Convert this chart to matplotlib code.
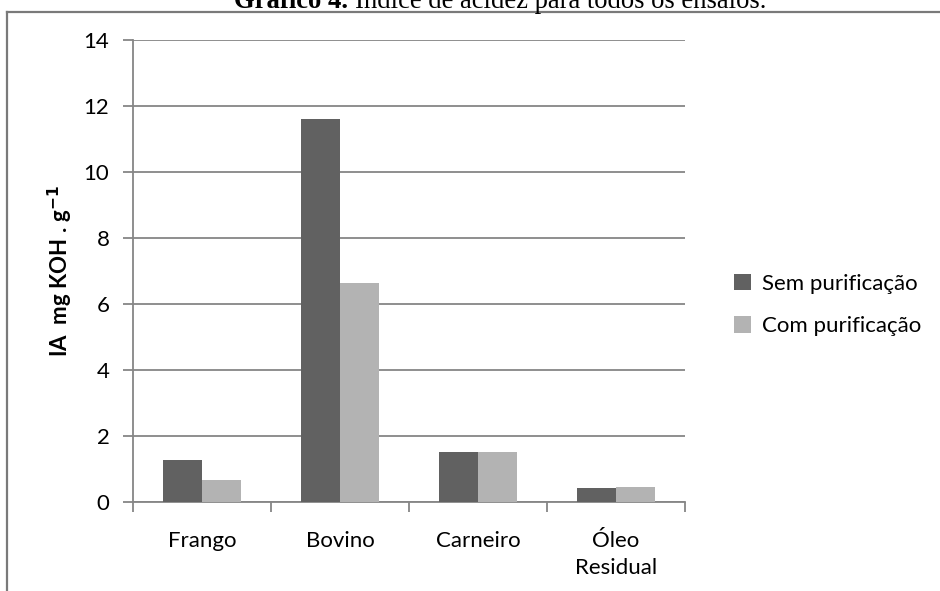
import matplotlib
matplotlib.use("Agg")
import matplotlib.pyplot as plt
import numpy as np
from matplotlib.lines import Line2D

# dados
categorias = ["Frango", "Bovino", "Carneiro", "Óleo\nResidual"]
sem_purif = [1.27, 11.60, 1.53, 0.41]
com_purif = [0.68, 6.64, 1.53, 0.45]
series = ["Sem purificação", "Com purificação"]
yticks = [0, 2, 4, 6, 8, 10, 12, 14]

cor_escura = "#616161"
cor_clara = "#b3b3b3"
cinza = "#868686"
fonte = "Lato"

fig = plt.figure(figsize=(9.4, 5.91), dpi=100, facecolor="white")
W, H = 940.0, 591.0

# moldura da pagina (recortada)
fig.add_artist(Line2D([7 / W, 1.02], [1 - 12 / H, 1 - 12 / H], color="#7a7a7a", lw=1.6))
fig.add_artist(Line2D([7 / W, 7 / W], [-0.02, 1 - 12 / H], color="#7a7a7a", lw=1.6))

# titulo (cortado no topo)
fig.text(348 / W, 1 - 8 / H, "Gráfico 4.", family="Liberation Serif", weight="bold",
         size=19.2, ha="right", va="baseline")
fig.text(355 / W, 1 - 8 / H, "Índice de acidez para todos os ensaios.", family="Liberation Serif",
         size=19.2, ha="left", va="baseline")

ax = fig.add_axes([133 / W, 1 - 502 / H, (685 - 133) / W, (502 - 40) / H])
x = np.arange(len(categorias))
wid = 1 / 3.5
ax.bar(x - wid / 2, sem_purif, wid, color=cor_escura, label=series[0], zorder=3)
ax.bar(x + wid / 2, com_purif, wid, color=cor_clara, label=series[1], zorder=3)

ax.set_xlim(-0.5, len(categorias) - 0.5)
ax.set_ylim(0, 14)
ax.set_yticks(yticks)
ax.set_yticklabels([str(v) for v in yticks], family=fonte, size=16)
ax.set_xticks(x)
ax.set_xticklabels(categorias, family=fonte, size=16, linespacing=1.4)
ax.set_xticks(np.arange(-0.5, len(categorias)), minor=True)
ax.tick_params(axis="x", which="major", length=0, pad=21)
ax.tick_params(axis="x", which="minor", length=7, width=1.3, color=cinza, direction="out")
ax.tick_params(axis="y", length=7, width=1.3, color=cinza, pad=10)

for s in ["top", "right"]:
    ax.spines[s].set_visible(False)
for s in ["left", "bottom"]:
    ax.spines[s].set_color(cinza)
    ax.spines[s].set_linewidth(1.3)
ax.yaxis.grid(True, color=cinza, lw=1.3, zorder=0)
ax.set_axisbelow(True)

ax.set_ylabel("IA  mg KOH . g$^{\\mathbf{-1}}$", family=fonte, weight="bold", size=16, labelpad=6)

ax.legend(loc="center left", bbox_to_anchor=(714 / W, 1 - 305 / H), bbox_transform=fig.transFigure,
          frameon=False, prop={"family": fonte, "size": 16}, handlelength=0.75, handleheight=0.75,
          handletextpad=0.5, labelspacing=1.0)

fig.savefig("out.png", dpi=100, facecolor="white")
